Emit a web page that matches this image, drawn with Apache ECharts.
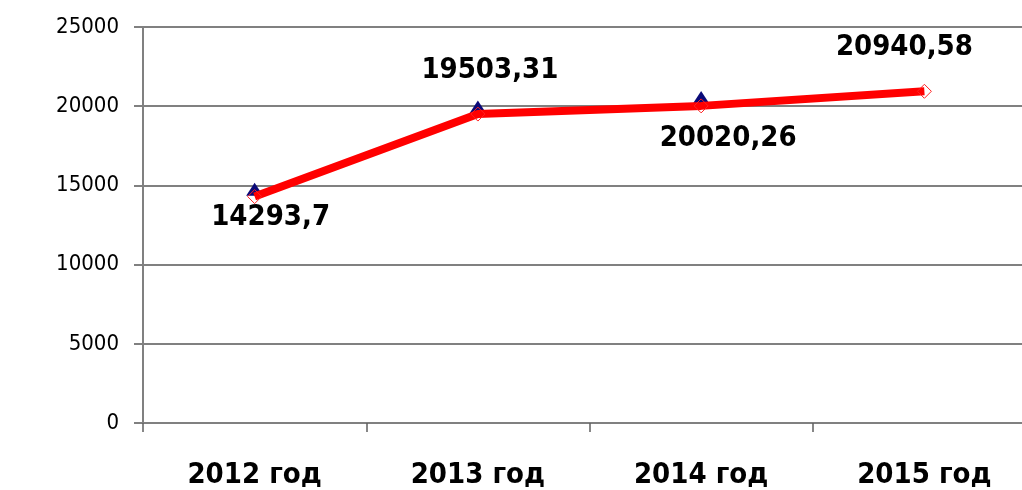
<!DOCTYPE html>
<html><head><meta charset="utf-8">
<script src="https://cdn.jsdelivr.net/npm/echarts@6/dist/echarts.min.js"></script>
<style>html,body{margin:0;padding:0;background:#fff;overflow:hidden}#c{width:1040px;height:490px}</style>
</head><body><div id="c"></div>
<script>
const categories = ['2012 год', '2013 год', '2014 год', '2015 год'];
const redValues = [14293.7, 19503.31, 20020.26, 20940.58];
const redLabels = ['14293,7', '19503,31', '20020,26', '20940,58'];
const blueValues = [14750, 19950, 20550, null];
const yTicks = [0, 5000, 10000, 15000, 20000, 25000];

const labelOffsets = [[16, 21], [12, -44], [27, 33], [-20, -44]];
const FONT = '"DejaVu Sans Condensed", "DejaVu Sans", sans-serif';
const chart = echarts.init(document.getElementById('c'), null, {renderer: 'canvas'});
chart.setOption({
  animation: false,
  backgroundColor: '#ffffff',
  grid: {left: 143, top: 27, bottom: 66, right: 4, containLabel: false},
  xAxis: {
    type: 'category', data: categories, boundaryGap: true,
    axisLine: {lineStyle: {color: '#808080', width: 2}},
    axisTick: {show: true, length: 9, lineStyle: {color: '#606060', width: 1.5}},
    axisLabel: {color: '#000', fontFamily: FONT, fontWeight: 'bold', fontSize: 29, margin: 38},
    splitLine: {show: false}
  },
  yAxis: {
    type: 'value', min: yTicks[0], max: yTicks[yTicks.length - 1], interval: yTicks[1] - yTicks[0],
    axisLine: {show: true, lineStyle: {color: '#808080', width: 2}},
    axisTick: {show: true, length: 9, lineStyle: {color: '#808080', width: 2}},
    axisLabel: {color: '#000', fontFamily: FONT, fontSize: 22, margin: 24, formatter: v => String(v)},
    splitLine: {show: true, lineStyle: {color: '#808080', width: 2}}
  },
  series: [
    {
      type: 'line', data: blueValues, z: 2,
      lineStyle: {width: 0, opacity: 0},
      symbol: 'triangle', symbolSize: [17, 13], showSymbol: true,
      itemStyle: {color: '#0a0a78'}
    },
    {
      type: 'line', z: 3,
      data: redValues.map((v, i) => ({
        value: v,
        label: {
          show: true, formatter: redLabels[i], position: 'inside',
          offset: labelOffsets[i], color: '#000', fontFamily: FONT,
          fontWeight: 'bold', fontSize: 29
        }
      })),
      lineStyle: {color: '#ff0000', width: 8},
      symbol: 'diamond', symbolSize: 14,
      itemStyle: {color: 'rgba(255,255,255,0)', borderColor: '#ff2020', borderWidth: 1}
    }
  ]
});
</script></body></html>
